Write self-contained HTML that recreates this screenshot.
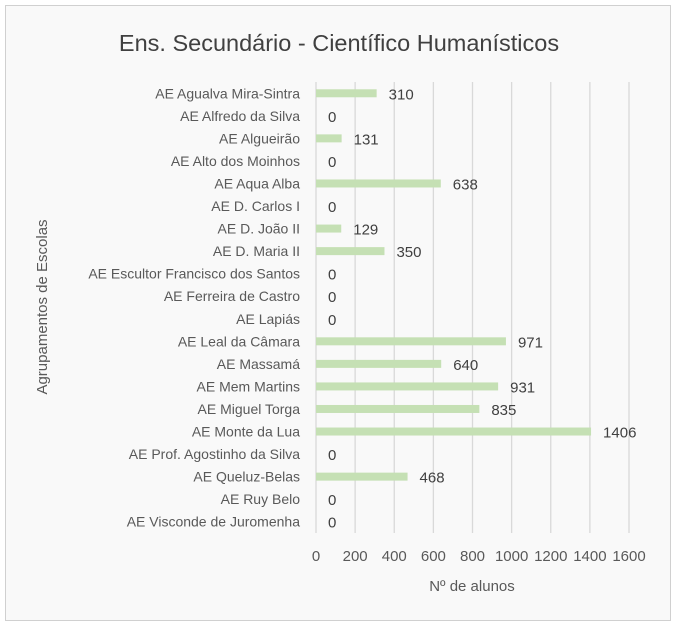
<!DOCTYPE html>
<html><head><meta charset="utf-8"><style>
body{margin:0;background:#fff;}
svg{display:block;font-family:"Liberation Sans",sans-serif;}
</style></head><body>
<svg id="c" width="677" height="630">
<rect x="0.5" y="0.5" width="676" height="629" fill="#fff" stroke="#fff"/>
<rect x="5.5" y="5.5" width="665" height="615" fill="#f9f9f9" stroke="#d0d0d0"/>
<text x="339" y="51" text-anchor="middle" font-size="23.5" fill="#404040">Ens. Secundário - Científico Humanísticos</text>
<text x="472" y="591" text-anchor="middle" font-size="15" fill="#595959">Nº de alunos</text>
<text transform="translate(47,307) rotate(-90)" text-anchor="middle" font-size="15" fill="#595959">Agrupamentos de Escolas</text>
<g id="g"></g>
</svg>
<script>
const categories=["AE Agualva Mira-Sintra","AE Alfredo da Silva","AE Algueirão","AE Alto dos Moinhos","AE Aqua Alba","AE D. Carlos I","AE D. João II","AE D. Maria II","AE Escultor Francisco dos Santos","AE Ferreira de Castro","AE Lapiás","AE Leal da Câmara","AE Massamá","AE Mem Martins","AE Miguel Torga","AE Monte da Lua","AE Prof. Agostinho da Silva","AE Queluz-Belas","AE Ruy Belo","AE Visconde de Juromenha"];
const values=[310,0,131,0,638,0,129,350,0,0,0,971,640,931,835,1406,0,468,0,0];
const ticks=[0,200,400,600,800,1000,1200,1400,1600];
const NS="http://www.w3.org/2000/svg";
const g=document.getElementById('g');
const x0=316,x1=629,xmax=1600,yTop=82,yBot=533;
const xs=v=>x0+(x1-x0)*v/xmax;
const step=(yBot-yTop)/categories.length;
const ys=i=>yTop+step*(i+0.5);
function mk(t,a){const e=document.createElementNS(NS,t);for(const k in a)e.setAttribute(k,a[k]);g.appendChild(e);return e;}
ticks.forEach(t=>{
 const l=mk('line',{x1:xs(t),x2:xs(t),y1:yTop,y2:yBot,stroke:'#d9d9d9','stroke-width':1.3});
 
 
 const tx=mk('text',{x:xs(t),y:561,'text-anchor':'middle','font-size':15,fill:'#595959'});
 tx.textContent=t;
 
 
});
categories.forEach((c,i)=>{
 const y=ys(i);
 const lb=mk('text',{x:300,y:y+5,'text-anchor':'end','font-size':14,fill:'#595959'});
 lb.textContent=c;
 
 
 const v=values[i];
 if(v>0){
  const b=mk('rect',{x:xs(0),y:y-4,width:xs(v)-xs(0),height:8,fill:'#c5e0b4'});
  
  
 }
 const vl=mk('text',{x:xs(v)+12,y:y+6,'font-size':15,fill:'#404040'});
 vl.textContent=v;
 
 
});
</script>
</body></html>
